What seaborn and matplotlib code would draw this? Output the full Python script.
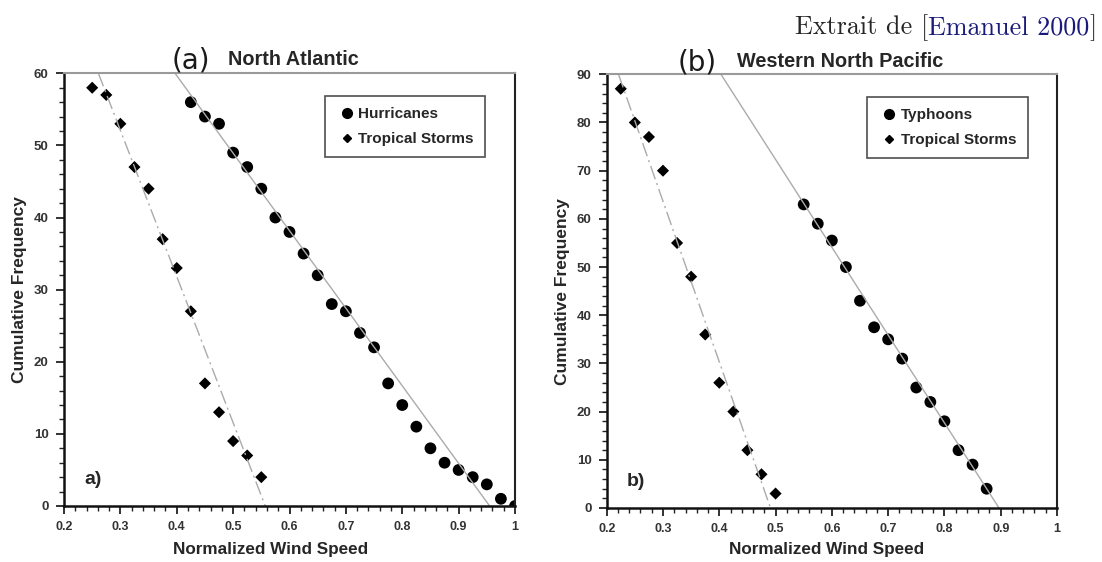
import numpy as np
import pandas as pd
import matplotlib as mpl
mpl.use('Agg')
import matplotlib.pyplot as plt
from matplotlib.lines import Line2D
from matplotlib.ticker import MultipleLocator
import seaborn as sns

sns.set_style('ticks')
plt.rcParams['font.family'] = ['Liberation Sans', 'DejaVu Sans']

###############################################################################
# (a) North Atlantic
na_hur_speed = [0.425, 0.45, 0.475, 0.5, 0.525, 0.55, 0.575, 0.6, 0.625, 0.65, 0.675, 0.7,
                0.725, 0.75, 0.775, 0.8, 0.825, 0.85, 0.875, 0.9, 0.925, 0.95, 0.975, 1.0]
na_hur_freq = [56, 54, 53, 49, 47, 44, 40, 38, 35, 32, 28, 27,
               24, 22, 17, 14, 11, 8, 6, 5, 4, 3, 1, 0]
na_ts_speed = [0.25, 0.275, 0.3, 0.325, 0.35, 0.375, 0.4, 0.425, 0.45, 0.475, 0.5, 0.525, 0.55]
na_ts_freq = [58, 57, 53, 47, 44, 37, 33, 27, 17, 13, 9, 7, 4]
na_hur_fit_speed = [0.397, 0.955]
na_hur_fit_freq = [60, 0]
na_ts_fit_speed = [0.261, 0.557]
na_ts_fit_freq = [60, 0]

# (b) Western North Pacific
wnp_typ_speed = [0.55, 0.575, 0.6, 0.625, 0.65, 0.675, 0.7, 0.725, 0.75, 0.775, 0.8, 0.825, 0.85, 0.875]
wnp_typ_freq = [63, 59, 55.5, 50, 43, 37.5, 35, 31, 25, 22, 18, 12, 9, 4]
wnp_ts_speed = [0.225, 0.25, 0.275, 0.3, 0.325, 0.35, 0.375, 0.4, 0.425, 0.45, 0.475, 0.5]
wnp_ts_freq = [87, 80, 77, 70, 55, 48, 36, 26, 20, 12, 7, 3]
wnp_typ_fit_speed = [0.403, 0.897]
wnp_typ_fit_freq = [90, 0]
wnp_ts_fit_speed = [0.221, 0.491]
wnp_ts_fit_freq = [90, 0]

x_ticks = [0.2, 0.3, 0.4, 0.5, 0.6, 0.7, 0.8, 0.9, 1.0]
x_ticklabels = ['0.2', '0.3', '0.4', '0.5', '0.6', '0.7', '0.8', '0.9', '1']

###############################################################################
W, H = 1102, 562
fig = plt.figure(figsize=(W / 100, H / 100), dpi=100)


def px_axes(l, r, t, b):
    return fig.add_axes([l / W, 1 - b / H, (r - l) / W, (b - t) / H])


def draw_panel(ax, big_name, big_speed, big_freq, ts_speed, ts_freq,
               big_fit, ts_fit, ymax, letter, xlabel_xy):
    pts = pd.DataFrame({
        'speed': big_speed + ts_speed,
        'freq': big_freq + ts_freq,
        'kind': [big_name] * len(big_speed) + ['Tropical Storms'] * len(ts_speed),
    })
    sns.lineplot(x=big_fit[0], y=big_fit[1], color='#ababab', lw=1.0,
                 estimator=None, sort=False, ax=ax)
    sns.lineplot(x=ts_fit[0], y=ts_fit[1], color='#ababab', lw=1.0,
                 estimator=None, sort=False, ax=ax, linestyle=(0, (10, 3, 1.5, 3)))
    sns.scatterplot(data=pts, x='speed', y='freq', style='kind', size='kind',
                    markers={big_name: 'o', 'Tropical Storms': 'D'},
                    sizes={big_name: 72, 'Tropical Storms': 38},
                    color='black', edgecolor='none', legend=False, ax=ax)

    ax.set_xlim(0.2, 1.0)
    ax.set_ylim(0, ymax)
    ax.set_xticks(x_ticks)
    ax.set_xticklabels(x_ticklabels, fontweight='bold', fontsize=9, color='#333333')
    ax.set_yticks(np.arange(0, ymax + 1, 10))
    ax.set_yticklabels([str(v) for v in range(0, ymax + 1, 10)],
                       fontweight='bold', fontsize=9.5, color='#333333')
    ax.xaxis.set_minor_locator(MultipleLocator(0.02))
    ax.yaxis.set_minor_locator(MultipleLocator(2))
    ax.tick_params(which='major', direction='out', length=6, width=1.3, pad=5, color='#222222')
    ax.tick_params(which='minor', direction='out', length=3.5, width=1.0, color='#222222')

    for side in ['left', 'bottom']:
        ax.spines[side].set_linewidth(1.8)
        ax.spines[side].set_color('#111111')
    ax.spines['right'].set_linewidth(1.5)
    ax.spines['right'].set_color('#222222')
    ax.spines['top'].set_linewidth(1.5)
    ax.spines['top'].set_color('#9a9a9a')
    ax.spines['top'].set_visible(True)
    ax.spines['right'].set_visible(True)

    ax.set_xlabel('Normalized Wind Speed', fontweight='bold', fontsize=12.3)
    ax.xaxis.set_label_coords(*xlabel_xy)
    ax.set_ylabel('Cumulative Frequency', fontweight='bold', fontsize=12.5, labelpad=5)

    ax.text(0.045, 0.05, letter + ')', transform=ax.transAxes, fontsize=14,
            fontweight='bold', ha='left', va='baseline')

    handles = [
        Line2D([], [], marker='o', color='black', ls='none', markersize=7),
        Line2D([], [], marker='D', color='black', ls='none', markersize=4.5),
    ]
    leg = ax.legend(handles, [big_name, 'Tropical Storms'], loc='upper left',
                    bbox_to_anchor=(0.578, 0.948), frameon=True, fancybox=False,
                    prop={'weight': 'bold', 'size': 11}, handlelength=1.4,
                    handletextpad=0.05, labelspacing=0.7, borderpad=0.75,
                    borderaxespad=0.0)
    leg.get_frame().set_edgecolor('#222222')
    leg.get_frame().set_linewidth(1.2)


ax_a = px_axes(64, 515, 73.3, 506)
draw_panel(ax_a, 'Hurricanes', na_hur_speed, na_hur_freq, na_ts_speed, na_ts_freq,
           (na_hur_fit_speed, na_hur_fit_freq), (na_ts_fit_speed, na_ts_fit_freq),
           60, 'a', (0.457, -0.083))

ax_b = px_axes(606.7, 1057, 74.3, 508)
draw_panel(ax_b, 'Typhoons', wnp_typ_speed, wnp_typ_freq, wnp_ts_speed, wnp_ts_freq,
           (wnp_typ_fit_speed, wnp_typ_fit_freq), (wnp_ts_fit_speed, wnp_ts_fit_freq),
           90, 'b', (0.489, -0.079))

# panel titles
fig.text(172 / W, 1 - 68 / H, '(a)', fontsize=20, family=['DejaVu Sans'],
         ha='left', va='baseline', color='#1a1a1a')
fig.text(228 / W, 1 - 65 / H, 'North Atlantic', fontsize=14.3, fontweight='bold',
         ha='left', va='baseline')
fig.text(678 / W, 1 - 70 / H, '(b)', fontsize=20, family=['DejaVu Sans'],
         ha='left', va='baseline', color='#1a1a1a')
fig.text(737 / W, 1 - 67 / H, 'Western North Pacific', fontsize=14.3, fontweight='bold',
         ha='left', va='baseline')

# source note, top right
serif = ['cmr10', 'DejaVu Serif']
t3 = fig.text(1097 / W, 1 - 34 / H, ']', fontsize=18.8, family=serif, ha='right', va='baseline')
t2 = plt.annotate('Emanuel 2000', xy=(0, 0), xycoords=t3, fontsize=18.8, family=serif,
                  color='#1a1a7a', ha='right', va='bottom', annotation_clip=False)
plt.annotate('Extrait de [', xy=(0, 0), xycoords=t2, fontsize=18.8, family=serif,
             ha='right', va='bottom', annotation_clip=False)

fig.savefig('out.png', dpi=100)
